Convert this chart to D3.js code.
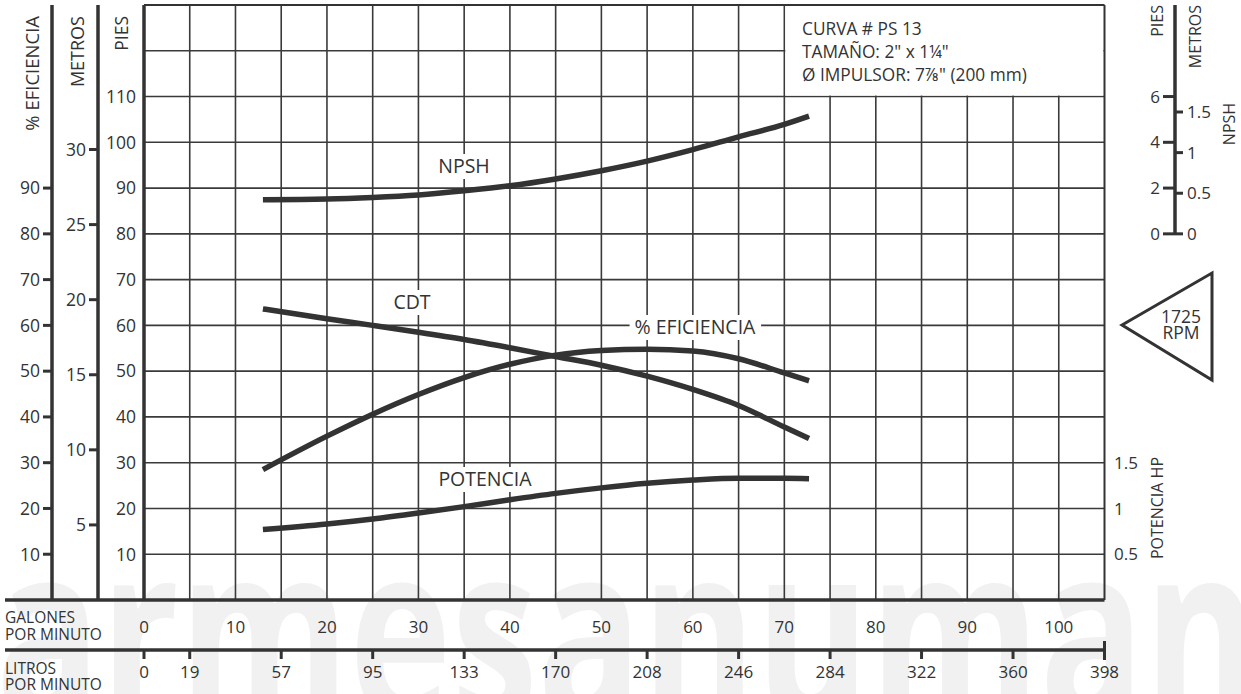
<!DOCTYPE html>
<html>
<head>
<meta charset="utf-8">
<script src="https://cdn.jsdelivr.net/npm/d3@7"></script>
<style>
  html, body { margin: 0; padding: 0; background: #fff; }
  svg { display: block; }
  text { font-family: "Open Sans", "Noto Sans", sans-serif; fill: #333; }
</style>
</head>
<body>
<svg id="chart" width="1241" height="694"></svg>
<script>
// ---- data ----
const gpm      = [13.0, 20, 25, 30, 35, 40, 45, 50, 55, 60, 65, 70, 72.7];
const cdtFt    = [63.6, 61.45, 60.0, 58.5, 56.9, 55.1, 53.2, 51.3, 48.9, 46.0, 42.5, 37.8, 35.3];
const effPct   = [28.5, 35.8, 40.6, 44.9, 48.6, 51.5, 53.5, 54.5, 54.8, 54.4, 52.7, 49.6, 47.9];
const powerHp  = [0.77, 0.83, 0.885, 0.95, 1.02, 1.095, 1.165, 1.225, 1.275, 1.31, 1.33, 1.33, 1.325];
const npshFt   = [1.49, 1.52, 1.59, 1.70, 1.88, 2.10, 2.40, 2.76, 3.18, 3.68, 4.24, 4.78, 5.14];

const galTicks   = [0, 10, 20, 30, 40, 50, 60, 70, 80, 90, 100];
const litroGpm   = [0, 5, 15, 25, 35, 45, 55, 65, 75, 85, 95, 105];
const litroLabels= ["0","19","57","95","133","170","208","246","284","322","360","398"];
const piesTicks  = [10, 20, 30, 40, 50, 60, 70, 80, 90, 100, 110];
const effTicks   = [10, 20, 30, 40, 50, 60, 70, 80, 90];
const metroTicks = [5, 10, 15, 20, 25, 30];
const npshPiesTicks  = [0, 2, 4, 6];
const npshMetroTicks = [0, 0.5, 1, 1.5];
const hpTicks    = [0.5, 1, 1.5];
const infoLines  = ["CURVA # PS 13", "TAMAÑO: 2\" x 1¼\"", "Ø IMPULSOR: 7⅞\" (200 mm)"];

// ---- scales ----
const svg = d3.select("#chart");
const x = d3.scaleLinear().domain([0, 105]).range([144, 1104.5]);
const y = d3.scaleLinear().domain([0, 130]).range([600, 5]);
const yMetros = m => y(m * 3.2808);
const yHp = h => y(h * 20);
const yNpsh = n => y(80 + 5 * n);
const yNpshM = d3.scaleLinear().domain([0, 1.5]).range([y(80), 112]);

const INK = "#333";

// ---- watermark ----
svg.append("text")
  .attr("x", -4).attr("y", 722)
  .attr("textLength", 1262).attr("lengthAdjust", "spacingAndGlyphs")
  .style("font-size", "250px").style("font-weight", 700)
  .style("fill", "#f1f1f1")
  .text("armesanuman");

// ---- grid ----
const grid = svg.append("g").attr("stroke", "#3a3a3a").attr("stroke-width", 1.6);
d3.range(5, 105, 5).forEach(g => {
  grid.append("line").attr("x1", x(g)).attr("x2", x(g)).attr("y1", y(130)).attr("y2", y(0));
});
d3.range(10, 130, 10).forEach(f => {
  grid.append("line").attr("x1", x(0)).attr("x2", x(105)).attr("y1", y(f)).attr("y2", y(f));
});
// info box (covers grid)
svg.append("rect")
  .attr("x", x(70) + 1).attr("y", y(130) + 1)
  .attr("width", x(105) - x(70) - 2).attr("height", y(110) - y(130) - 2)
  .attr("fill", "#fff");
svg.append("g").selectAll("text").data(infoLines).join("text")
  .attr("x", 802).attr("y", (d, i) => 35 + i * 23)
  .style("font-size", "17.3px")
  .text(d => d);

// frame
svg.append("line").attr("x1", x(0)).attr("x2", x(105)).attr("y1", y(130)).attr("y2", y(130))
  .attr("stroke", INK).attr("stroke-width", 2);
svg.append("line").attr("x1", x(105)).attr("x2", x(105)).attr("y1", y(130)).attr("y2", y(0))
  .attr("stroke", INK).attr("stroke-width", 2);
svg.append("line").attr("x1", x(0)).attr("x2", x(0)).attr("y1", y(130)).attr("y2", y(0))
  .attr("stroke", INK).attr("stroke-width", 3.5);

// ---- left axes ----
const effX = 52, metX = 98;
svg.append("line").attr("x1", effX).attr("x2", effX).attr("y1", 5).attr("y2", 600)
  .attr("stroke", INK).attr("stroke-width", 3.5);
svg.append("line").attr("x1", metX).attr("x2", metX).attr("y1", 5).attr("y2", 600)
  .attr("stroke", INK).attr("stroke-width", 3.5);

const effG = svg.append("g");
effTicks.forEach(t => {
  effG.append("line").attr("x1", effX - 9).attr("x2", effX).attr("y1", y(t)).attr("y2", y(t))
    .attr("stroke", INK).attr("stroke-width", 3);
  effG.append("text").attr("x", effX - 12).attr("y", y(t)).attr("dy", "0.36em")
    .attr("text-anchor", "end").style("font-size", "17.5px").text(t);
});
const metG = svg.append("g");
metroTicks.forEach(t => {
  metG.append("line").attr("x1", metX - 9).attr("x2", metX).attr("y1", yMetros(t)).attr("y2", yMetros(t))
    .attr("stroke", INK).attr("stroke-width", 3);
  metG.append("text").attr("x", metX - 12).attr("y", yMetros(t)).attr("dy", "0.36em")
    .attr("text-anchor", "end").style("font-size", "17.5px").text(t);
});
const piesG = svg.append("g");
piesTicks.forEach(t => {
  piesG.append("text").attr("x", x(0) - 8).attr("y", y(t)).attr("dy", "0.36em")
    .attr("text-anchor", "end").style("font-size", "17.5px").text(t);
});

function vlabel(cx, top, txt, size, anchor) {
  svg.append("text")
    .attr("transform", `translate(${cx},${top}) rotate(-90)`)
    .attr("text-anchor", anchor || "end").attr("dy", "0.36em")
    .style("font-size", size + "px").text(txt);
}
vlabel(32, 16, "% EFICIENCIA", 18.5);
vlabel(78, 16, "METROS", 18);
vlabel(122, 16, "PIES", 17.5);

// ---- right NPSH axis ----
const nX = 1175;
svg.append("line").attr("x1", nX).attr("x2", nX).attr("y1", 5).attr("y2", y(80) + 1)
  .attr("stroke", INK).attr("stroke-width", 3.5);
npshPiesTicks.forEach(t => {
  svg.append("line").attr("x1", nX - 12).attr("x2", nX).attr("y1", yNpsh(t)).attr("y2", yNpsh(t))
    .attr("stroke", INK).attr("stroke-width", 3);
  svg.append("text").attr("x", nX - 15).attr("y", yNpsh(t)).attr("dy", "0.36em")
    .attr("text-anchor", "end").style("font-size", "17px").text(t);
});
npshMetroTicks.forEach(t => {
  svg.append("line").attr("x1", nX).attr("x2", nX + 8).attr("y1", yNpshM(t)).attr("y2", yNpshM(t))
    .attr("stroke", INK).attr("stroke-width", 3);
  svg.append("text").attr("x", nX + 12).attr("y", yNpshM(t)).attr("dy", "0.36em")
    .attr("text-anchor", "start").style("font-size", "17px").text(t);
});
vlabel(1157, 5, "PIES", 16);
vlabel(1195, 5, "METROS", 16);
vlabel(1229, 124, "NPSH", 16, "middle");

// ---- HP labels ----
hpTicks.forEach(t => {
  svg.append("text").attr("x", 1114).attr("y", yHp(t)).attr("dy", "0.36em")
    .attr("text-anchor", "start").style("font-size", "17px").text(t);
});
vlabel(1157, 508, "POTENCIA HP", 16, "middle");

// ---- RPM triangle ----
svg.append("path")
  .attr("d", `M1122,325 L1212,273 L1212,380 Z`)
  .attr("fill", "none").attr("stroke", INK).attr("stroke-width", 3).attr("stroke-linejoin", "miter");
svg.append("text").attr("x", 1181).attr("y", 323).attr("text-anchor", "middle")
  .style("font-size", "17.5px").text("1725");
svg.append("text").attr("x", 1181).attr("y", 339).attr("text-anchor", "middle")
  .style("font-size", "17.5px").text("RPM");

// ---- bottom axes ----
svg.append("line").attr("x1", 5).attr("x2", x(105)).attr("y1", 600).attr("y2", 600)
  .attr("stroke", INK).attr("stroke-width", 3.5);
svg.append("text").attr("x", 5).attr("y", 623).style("font-size", "15.5px").text("GALONES");
svg.append("text").attr("x", 5).attr("y", 640).style("font-size", "15.5px").text("POR MINUTO");
galTicks.forEach(t => {
  svg.append("text").attr("x", x(t)).attr("y", 633).attr("text-anchor", "middle")
    .style("font-size", "17px").text(t);
});

svg.append("line").attr("x1", 5).attr("x2", x(105)).attr("y1", 650).attr("y2", 650)
  .attr("stroke", INK).attr("stroke-width", 3.5);
svg.append("line").attr("x1", x(105)).attr("x2", x(105)).attr("y1", 641).attr("y2", 660)
  .attr("stroke", INK).attr("stroke-width", 3);
svg.append("text").attr("x", 5).attr("y", 674).style("font-size", "15.5px").text("LITROS");
svg.append("text").attr("x", 5).attr("y", 690).style("font-size", "15.5px").text("POR MINUTO");
litroGpm.forEach((g, i) => {
  if (i < litroGpm.length - 1) {
    svg.append("line").attr("x1", x(g)).attr("x2", x(g)).attr("y1", 650).attr("y2", 659)
      .attr("stroke", INK).attr("stroke-width", 3);
  }
  svg.append("text").attr("x", x(g)).attr("y", 678).attr("text-anchor", "middle")
    .style("font-size", "17px").text(litroLabels[i]);
});

// ---- curves ----
const curve = d3.curveMonotoneX;
function drawCurve(vals, yf) {
  const line = d3.line().x((d, i) => x(gpm[i])).y(d => yf(d)).curve(curve);
  svg.append("path").datum(vals).attr("d", line)
    .attr("fill", "none").attr("stroke", INK).attr("stroke-width", 5.5);
}
drawCurve(npshFt, yNpsh);
drawCurve(cdtFt, y);
drawCurve(effPct, y);
drawCurve(powerHp, yHp);

// ---- curve labels ----
function curveLabel(cx, cy, txt) {
  const t = svg.append("text").attr("x", cx).attr("y", cy).attr("dy", "0.36em")
    .attr("text-anchor", "middle").style("font-size", "19.5px").text(txt);
  const bb = t.node().getBBox();
  svg.insert("rect", () => t.node())
    .attr("x", bb.x - 5).attr("y", cy - 12).attr("width", bb.width + 10).attr("height", 25)
    .attr("fill", "#fff");
}
curveLabel(464, 166, "NPSH");
curveLabel(412, 302, "CDT");
curveLabel(695, 327, "% EFICIENCIA");
curveLabel(485, 479, "POTENCIA");
</script>
</body>
</html>
